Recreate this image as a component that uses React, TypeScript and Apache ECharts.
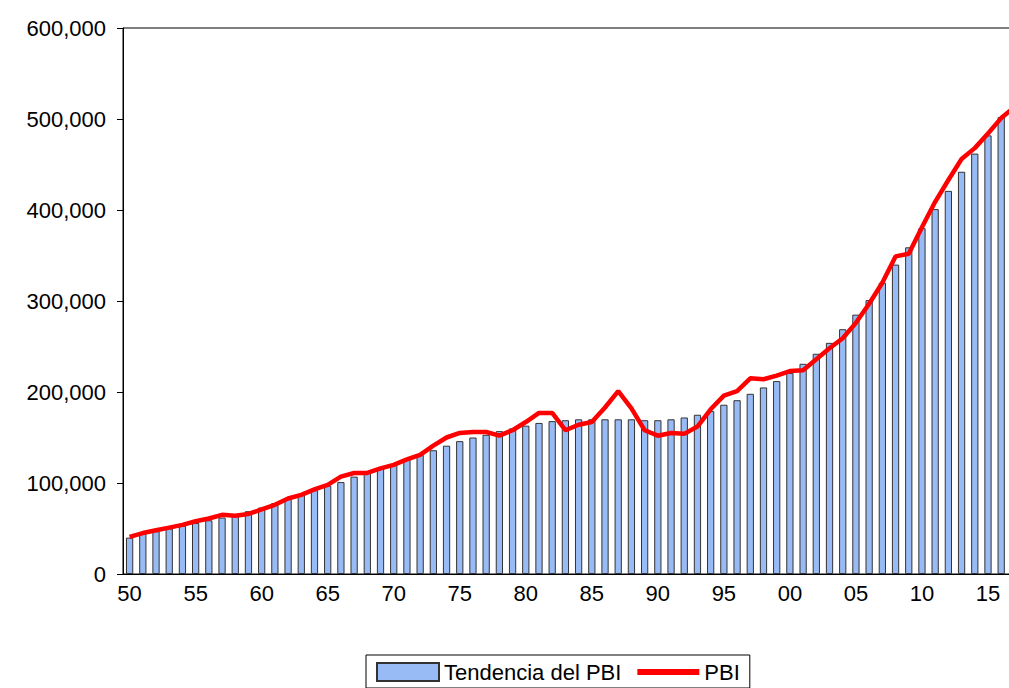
import { useRef, useEffect } from "react";
import * as echarts from "echarts";

const years = Array.from({ length: 68 }, (_, i) => String(1950 + i));

const trend = [
  40, 44, 47, 50, 53, 56, 59, 62, 64, 69,
  73, 78, 83, 88, 92, 97, 101, 107, 111, 116,
  121, 126, 131, 136, 141, 146, 150, 153, 157, 160,
  163, 166, 168, 169, 170, 170, 170, 170, 170, 169,
  169, 170, 172, 175, 179, 186, 191, 198, 205, 212,
  221, 231, 242, 254, 269, 285, 301, 320, 340, 359,
  380, 401, 421, 442, 462, 482, 502, 522,
].map((v) => v * 1000);

const pbi = [
  40.7, 45, 48, 51, 54, 58, 61, 65, 64, 66,
  71, 76, 83, 87, 93, 98, 107, 111, 111, 116,
  120, 126, 131, 141, 150, 155, 156, 156, 152, 158,
  167, 177, 177, 158, 164, 167, 183, 201, 182, 158,
  152, 155, 154, 162, 181, 196, 201, 215, 214, 218,
  223, 224, 236, 248, 259, 276, 297, 320, 349, 352,
  381, 409, 433, 456, 468, 484, 501, 513,
].map((v) => v * 1000);

const FONT = "Liberation Sans";

export default function App() {
  const chartRef = useRef<HTMLDivElement>(null);

  useEffect(() => {
    document.body.style.margin = "0";
    document.body.style.overflow = "hidden";
    if (!chartRef.current) return;
    const chart = echarts.init(chartRef.current, undefined, { renderer: "svg" });
    chart.setOption({
      animation: false,
      backgroundColor: "#fff",
      textStyle: { fontFamily: FONT },
      grid: {
        left: 123, top: 28, width: 898, height: 546,
        show: true, borderColor: "#000", borderWidth: 1,
      },
      xAxis: {
        type: "category",
        data: years,
        axisLine: { lineStyle: { color: "#000", width: 1 } },
        axisTick: { interval: 0, length: 6, lineStyle: { color: "#000" } },
        axisLabel: {
          interval: 4, color: "#000", fontSize: 22, margin: 8,
          formatter: (v: string) => v.slice(2),
        },
        splitLine: { show: false },
      },
      yAxis: {
        type: "value",
        min: 0, max: 600000, interval: 100000,
        axisLine: { show: true, lineStyle: { color: "#000" } },
        axisTick: { show: true, length: 6, lineStyle: { color: "#000" } },
        axisLabel: {
          color: "#000", fontSize: 22, margin: 17,
          formatter: (v: number) => v.toLocaleString("en-US"),
        },
        splitLine: { show: false },
      },
      legend: {
        bottom: 0, left: 366,
        borderColor: "#000", borderWidth: 1, padding: [6, 10, 5, 10],
        itemGap: 16, itemWidth: 62, itemHeight: 18,
        textStyle: { color: "#000", fontSize: 22, fontFamily: FONT },
        data: [
          { name: "Tendencia del PBI", icon: "rect" },
          { name: "PBI", icon: "path://M0,0 L10,0 L10,1 L0,1 Z" },
        ],
      },
      series: [
        {
          name: "Tendencia del PBI",
          type: "bar",
          data: trend,
          barWidth: "55%",
          itemStyle: { color: "#99bbf5", borderColor: "#333", borderWidth: 1 },
        },
        {
          name: "PBI",
          type: "line",
          data: pbi,
          symbol: "none",
          lineStyle: { color: "#ff0000", width: 4.5 },
          itemStyle: { color: "#ff0000" },
        },
      ],
    });
    return () => chart.dispose();
  }, []);

  return <div ref={chartRef} style={{ width: 1030, height: 688 }} />;
}
